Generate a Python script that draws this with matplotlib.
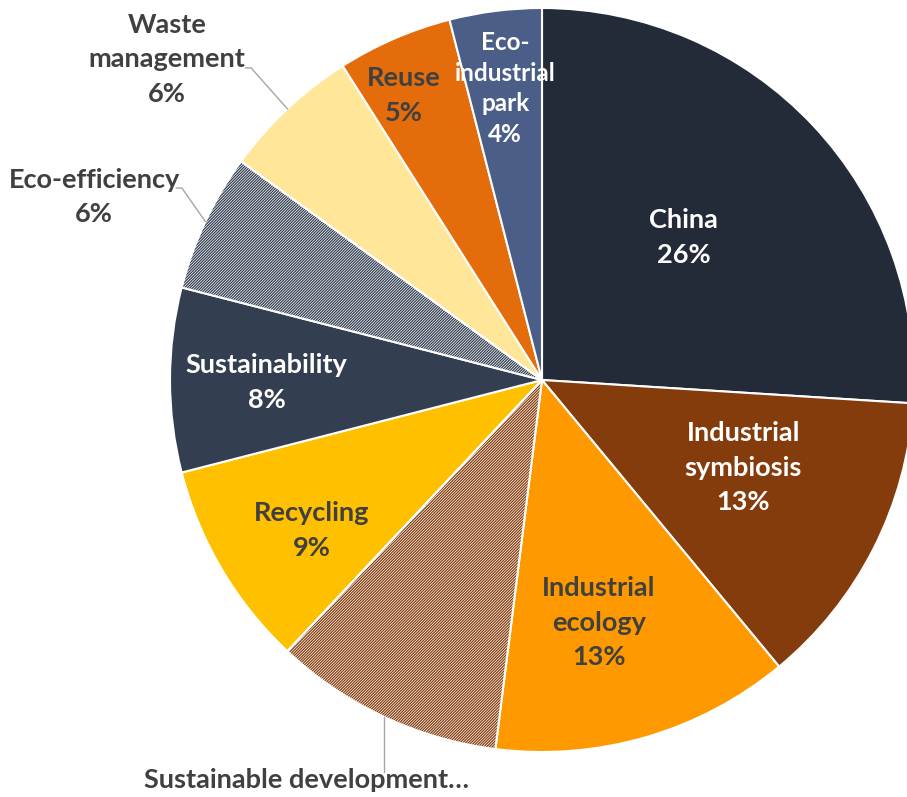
import matplotlib.pyplot as plt
from matplotlib.patches import Wedge
import numpy as np

plt.rcParams['font.family'] = ['Lato', 'DejaVu Sans']
plt.rcParams['hatch.linewidth'] = 0.9

# Data (clockwise from 12 o'clock)
labels = ["China", "Industrial\nsymbiosis", "Industrial\necology", "Sustainable development\u2026",
          "Recycling", "Sustainability", "Eco-efficiency", "Waste\nmanagement", "Reuse",
          "Eco-\nindustrial\npark"]
shares = [26, 13, 13, 10, 9, 8, 6, 6, 5, 4]

# Styling
colors = ["#232B38", "#843C0C", "#FF9900", "#843C0C", "#FFC000",
          "#333F50", "#333F50", "#FFE699", "#E46C0A", "#4A5E88"]
hatched = [False, False, False, True, False, False, True, False, False, False]
text_colors = ["white", "white", "#404040", "#404040", "#404040",
               "white", "#404040", "#404040", "#404040", "white"]
# inside labels: (radius fraction, angle nudge in degrees); None -> outside label
inside_pos = [(0.54, 2), (0.59, 3.5), (0.67, -3), None, (0.74, 2.5),
              (0.74, 0.5), None, None, (0.85, 2.5), (0.79, 0)]
# outside labels: text centre and elbow of leader line (pie units)
outside_pos = {3: ((-0.632, -1.075), None),
               6: ((-1.204, 0.492), (-0.968, 0.516)),
               7: ((-1.008, 0.862), (-0.782, 0.839))}

fig = plt.figure(figsize=(9.07, 7.97), dpi=100)
ax = fig.add_axes([0, 0, 1, 1])

wedges, _ = ax.pie(shares, colors=colors, startangle=90, counterclock=False,
                   radius=1.0, wedgeprops=dict(edgecolor='white', linewidth=1.5))

for i, w in enumerate(wedges):
    if hatched[i]:
        w.set_facecolor('white')
        w.set_edgecolor(colors[i])
        w.set_linewidth(0)
        w.set_hatch('/' * 12)
        ax.add_patch(Wedge(w.center, w.r, w.theta1, w.theta2, fill=False,
                           edgecolor='white', linewidth=1.5, zorder=w.get_zorder() + 0.1))

for i, w in enumerate(wedges):
    mid = np.deg2rad((w.theta1 + w.theta2) / 2)
    txt = f"{labels[i]}\n{shares[i]}%"
    size = 17.5 if i == 9 else 19.5
    if inside_pos[i] is not None:
        r, nudge = inside_pos[i]
        a = mid + np.deg2rad(nudge)
        ax.text(r * np.cos(a), r * np.sin(a), txt, ha='center', va='center',
                color=text_colors[i], fontsize=size, fontweight='bold',
                linespacing=1.39 if i == 9 else 1.52)
    else:
        (tx, ty), elbow = outside_pos[i]
        ex, ey = np.cos(mid), np.sin(mid)
        if i == 3:
            txt = labels[i]
            ax.plot([ex, ex], [ey, ty + 0.022], color='#A6A6A6', lw=1)
        else:
            ax.plot([ex, elbow[0], elbow[0] - 0.015], [ey, elbow[1], elbow[1]],
                    color='#A6A6A6', lw=1)
        ax.text(tx, ty, txt, ha='center', va='center', color=text_colors[i],
                fontsize=size, fontweight='bold', linespacing=1.52)

ax.set_xlim(-542 / 372, (907 - 542) / 372)
ax.set_ylim(-(797 - 380) / 372, 380 / 372)
ax.set_aspect('equal')
ax.axis('off')

fig.savefig('out.png', dpi=100)
